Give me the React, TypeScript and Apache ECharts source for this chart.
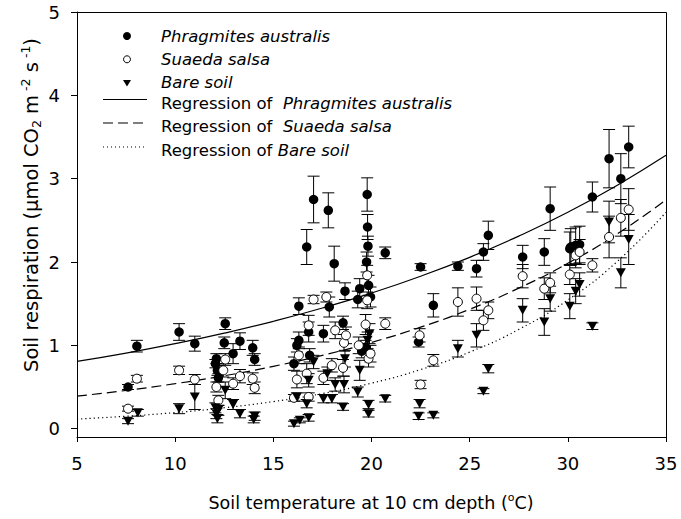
import React, { useEffect, useRef } from "react";
import * as echarts from "echarts";

// ---------- data ----------
// [soil temperature (°C), soil respiration, error]
const phragmites: number[][] = [
  [7.6, 0.5, 0.03], [8.05, 0.99, 0.07], [10.2, 1.16, 0.1], [11.0, 1.02, 0.09],
  [12.1, 0.84, 0.06], [12.05, 0.78, 0.05], [12.15, 0.7, 0.06], [12.2, 0.61, 0.05],
  [12.5, 1.03, 0.07], [12.55, 1.26, 0.07], [12.95, 0.9, 0.12], [13.3, 1.05, 0.1],
  [13.95, 0.97, 0.09], [14.05, 0.83, 0.07], [16.05, 0.78, 0.08], [16.3, 1.47, 0.1],
  [16.3, 1.06, 0.1], [16.2, 1.0, 0.08], [16.7, 2.18, 0.21], [16.8, 1.16, 0.12],
  [16.85, 0.88, 0.08], [17.05, 2.75, 0.28], [17.55, 1.14, 0.1], [17.8, 2.62, 0.21],
  [17.85, 1.46, 0.12], [18.1, 1.98, 0.21], [18.55, 1.27, 0.08], [18.65, 1.65, 0.1],
  [19.3, 1.55, 0.1], [19.4, 1.68, 0.12], [19.5, 0.93, 0.08], [19.7, 0.98, 0.08],
  [19.75, 2.0, 0.12], [19.78, 2.81, 0.2], [19.8, 2.42, 0.15], [19.82, 2.19, 0.12],
  [19.85, 1.72, 0.12], [19.95, 1.58, 0.12], [20.7, 2.11, 0.07], [22.4, 1.04, 0.06],
  [22.5, 1.94, 0.04], [23.15, 1.48, 0.14], [24.4, 1.95, 0.05], [25.35, 1.92, 0.1],
  [25.7, 2.12, 0.1], [25.95, 2.32, 0.17], [27.7, 2.06, 0.14], [28.8, 2.12, 0.16],
  [29.1, 2.64, 0.26], [30.1, 2.16, 0.2], [30.15, 2.18, 0.22], [30.4, 2.2, 0.22],
  [30.6, 2.21, 0.22], [31.25, 2.78, 0.18], [32.1, 3.24, 0.35], [32.7, 3.0, 0.3],
  [33.1, 3.38, 0.25],
];

const suaeda: number[][] = [
  [7.6, 0.24, 0.03], [8.05, 0.6, 0.04], [10.2, 0.7, 0.05], [11.0, 0.59, 0.06],
  [12.1, 0.5, 0.06], [12.2, 0.34, 0.06], [12.45, 0.7, 0.08], [12.55, 0.83, 0.07],
  [12.95, 0.54, 0.07], [13.3, 0.63, 0.08], [13.95, 0.6, 0.07], [14.05, 0.49, 0.07],
  [16.05, 0.37, 0.04], [16.2, 0.59, 0.1], [16.3, 0.88, 0.1], [16.7, 0.66, 0.12],
  [16.8, 1.24, 0.12], [16.8, 0.38, 0.05], [17.05, 1.55, 0.05], [17.55, 0.61, 0.08],
  [17.7, 1.58, 0.06], [17.98, 0.76, 0.08], [18.15, 1.18, 0.1], [18.55, 0.73, 0.1],
  [18.6, 1.03, 0.1], [18.7, 1.12, 0.1], [19.35, 1.0, 0.1], [19.7, 1.25, 0.12],
  [19.78, 1.84, 0.12], [19.78, 1.54, 0.1], [19.85, 0.84, 0.1], [19.95, 0.9, 0.1],
  [20.7, 1.26, 0.07], [22.45, 1.12, 0.08], [22.5, 0.53, 0.05], [23.15, 0.82, 0.07],
  [24.4, 1.52, 0.17], [25.35, 1.56, 0.14], [25.7, 1.3, 0.12], [25.95, 1.42, 0.1],
  [27.7, 1.83, 0.14], [28.8, 1.68, 0.13], [29.1, 1.75, 0.12], [30.1, 1.85, 0.12],
  [30.4, 2.08, 0.15], [30.6, 2.12, 0.15], [31.25, 1.96, 0.08], [32.1, 2.3, 0.25],
  [32.7, 2.53, 0.22], [33.1, 2.63, 0.25],
];

const bare: number[][] = [
  [7.6, 0.09, 0.03], [8.1, 0.19, 0.04], [10.2, 0.24, 0.06], [11.0, 0.38, 0.15],
  [12.05, 0.25, 0.06], [12.1, 0.18, 0.06], [12.15, 0.12, 0.05], [12.2, 0.22, 0.06],
  [12.55, 0.46, 0.1], [12.95, 0.29, 0.06], [13.3, 0.18, 0.05], [14.0, 0.11, 0.04],
  [14.05, 0.15, 0.05], [16.05, 0.06, 0.03], [16.2, 0.38, 0.05], [16.35, 0.1, 0.03],
  [16.7, 0.3, 0.05], [16.8, 0.58, 0.08], [16.8, 0.13, 0.04], [17.05, 0.8, 0.08],
  [17.55, 0.36, 0.05], [17.75, 0.66, 0.08], [17.98, 0.36, 0.05], [18.15, 0.53, 0.08],
  [18.55, 0.26, 0.04], [18.6, 0.53, 0.1], [18.65, 0.84, 0.1], [19.3, 0.44, 0.06],
  [19.4, 0.7, 0.12], [19.8, 1.06, 0.1], [19.85, 0.29, 0.05], [19.85, 0.18, 0.04],
  [19.9, 1.14, 0.12], [20.7, 0.36, 0.04], [22.45, 0.3, 0.05], [22.4, 0.15, 0.04],
  [23.15, 0.16, 0.03], [24.4, 0.96, 0.1], [25.35, 1.12, 0.14], [25.7, 0.45, 0.03],
  [25.95, 0.72, 0.05], [27.7, 1.42, 0.14], [28.8, 1.28, 0.16], [29.1, 1.56, 0.15],
  [30.1, 1.47, 0.15], [30.4, 1.65, 0.15], [30.6, 1.73, 0.14], [31.25, 1.23, 0.04],
  [32.1, 2.48, 0.25], [32.7, 1.87, 0.18], [33.1, 2.27, 0.3],
];

// regression curves, values
const curveT = [5, 7.5, 10, 12.5, 15, 17.5, 20, 22.5, 25, 27.5, 30, 32.5, 35];
const phragCurve = [0.807, 0.907, 1.02, 1.146, 1.288, 1.448, 1.627, 1.829, 2.056, 2.311, 2.597, 2.919, 3.28];
const suaedaCurve = [0.39, 0.459, 0.54, 0.635, 0.748, 0.88, 1.035, 1.218, 1.433, 1.686, 1.984, 2.334, 2.746];
const bareCurve = [0.115, 0.149, 0.193, 0.251, 0.325, 0.421, 0.546, 0.709, 0.919, 1.191, 1.544, 2.003, 2.597];

const yTicks = [0, 1, 2, 3, 4, 5];

const speciesNames = ["Phragmites australis", "Suaeda salsa", "Bare soil"];

const FONT = "'DejaVu Sans', sans-serif";

function errorSeries(data: number[][]) {
  return {
    type: "custom",
    data: data,
    encode: { x: 0, y: 1 },
    silent: true,
    z: 2,
    renderItem: (params: any, api: any) => {
      const x = api.value(0);
      const y = api.value(1);
      const e = api.value(2);
      const hi = api.coord([x, y + e]);
      const lo = api.coord([x, y - e]);
      const w = 6;
      const style = { stroke: "#000", lineWidth: 1, fill: "none" };
      return {
        type: "group",
        children: [
          { type: "line", shape: { x1: hi[0], y1: hi[1], x2: lo[0], y2: lo[1] }, style },
          { type: "line", shape: { x1: hi[0] - w, y1: hi[1], x2: hi[0] + w, y2: hi[1] }, style },
          { type: "line", shape: { x1: lo[0] - w, y1: lo[1], x2: lo[0] + w, y2: lo[1] }, style },
        ],
      };
    },
  };
}

function curve(values: number[], type: any, width: number) {
  return {
    type: "line",
    data: curveT.map((t, i) => [t, values[i]]),
    showSymbol: false,
    symbol: "none",
    smooth: true,
    silent: true,
    z: 1,
    lineStyle: { color: "#000", width, type },
  };
}

const richBase = {
  n: { fontFamily: FONT, fontSize: 16.5, fill: "#000", color: "#000" },
  i: { fontFamily: FONT, fontSize: 16.5, fontStyle: "italic", fill: "#000", color: "#000" },
};

function legendText(y: number, text: string) {
  return {
    type: "text",
    x: 161,
    y,
    style: { text, rich: richBase, align: "left", verticalAlign: "middle", fill: "#000" },
  };
}

function titleRich(size: number, small: number) {
  return {
    n: { fontFamily: FONT, fontSize: size, fill: "#000", color: "#000", lineHeight: size + 5 },
    sup: { fontFamily: FONT, fontSize: small, fill: "#000", color: "#000", lineHeight: small, verticalAlign: "top" },
    sub: { fontFamily: FONT, fontSize: small, fill: "#000", color: "#000", lineHeight: small, verticalAlign: "bottom" },
  };
}

export default function App() {
  const ref = useRef<HTMLDivElement>(null);
  useEffect(() => {
    if (!ref.current) return;
    const chart = echarts.init(ref.current, null, { renderer: "svg" });
    const option: any = {
      animation: false,
      backgroundColor: "#fff",
      grid: { left: 77, top: 12, right: 15, bottom: 82 },
      xAxis: {
        type: "value",
        min: 5,
        max: 35,
        interval: 5,
        axisLine: { show: true, onZero: false, lineStyle: { color: "#000", width: 1 } },
        axisTick: { show: true, length: 5, lineStyle: { color: "#000" } },
        axisLabel: { color: "#000", fontSize: 18, fontFamily: FONT, margin: 17 },
        splitLine: { show: false },
      },
      yAxis: {
        type: "value",
        min: -0.1,
        max: 5,
        axisLine: { show: true, onZero: false, lineStyle: { color: "#000", width: 1 } },
        axisTick: { show: true, length: 6, lineStyle: { color: "#000" }, customValues: yTicks },
        axisLabel: { color: "#000", fontSize: 18, fontFamily: FONT, margin: 17, customValues: yTicks },
        splitLine: { show: false },
      },
      series: [
        curve(phragCurve, "solid", 1.2),
        curve(suaedaCurve, [10, 5], 1.2),
        curve(bareCurve, [1.2, 3], 1.2),
        errorSeries(phragmites),
        errorSeries(suaeda),
        errorSeries(bare),
        {
          type: "scatter",
          name: speciesNames[0],
          data: phragmites.map((d) => [d[0], d[1]]),
          symbol: "circle",
          symbolSize: 9.5,
          itemStyle: { color: "#000", opacity: 1 },
          z: 3,
          silent: true,
        },
        {
          type: "scatter",
          name: speciesNames[1],
          data: suaeda.map((d) => [d[0], d[1]]),
          symbol: "circle",
          symbolSize: 9,
          itemStyle: { color: "#fff", borderColor: "#000", borderWidth: 1, opacity: 1 },
          z: 3,
          silent: true,
        },
        {
          type: "scatter",
          name: speciesNames[2],
          data: bare.map((d) => [d[0], d[1]]),
          symbol: "triangle",
          symbolRotate: 180,
          symbolSize: [10, 9],
          itemStyle: { color: "#000", opacity: 1 },
          z: 3,
          silent: true,
        },
      ],
      graphic: [
        // plot frame (top and right edges)
        {
          type: "polyline",
          shape: { points: [[77, 12.5], [666.5, 12.5], [666.5, 437]] },
          style: { stroke: "#000", lineWidth: 1, fill: "none" },
          z: 10,
        },
        { type: "circle", shape: { cx: 127, cy: 36, r: 4 }, style: { fill: "#000" } },
        { type: "circle", shape: { cx: 127, cy: 59.3, r: 3.5 }, style: { fill: "#fff", stroke: "#000", lineWidth: 1 } },
        { type: "polygon", shape: { points: [[123, 80], [131, 80], [127, 86.5]] }, style: { fill: "#000" } },
        { type: "line", shape: { x1: 103, y1: 99.5, x2: 147, y2: 99.5 }, style: { stroke: "#000", lineWidth: 1.2 } },
        { type: "line", shape: { x1: 103, y1: 123, x2: 147, y2: 123 }, style: { stroke: "#000", lineWidth: 1.2, lineDash: [10, 5] } },
        { type: "line", shape: { x1: 103, y1: 147, x2: 147, y2: 147 }, style: { stroke: "#000", lineWidth: 1, lineDash: [1, 3] } },
        legendText(36, `{i|${speciesNames[0]}}`),
        legendText(59.3, `{i|${speciesNames[1]}}`),
        legendText(82.7, `{i|${speciesNames[2]}}`),
        legendText(103, `{n|Regression of  }{i|${speciesNames[0]}}`),
        legendText(126.5, `{n|Regression of  }{i|${speciesNames[1]}}`),
        legendText(150, `{n|Regression of }{i|${speciesNames[2]}}`),
        {
          type: "text",
          x: 371,
          y: 503,
          style: {
            text: "{n|Soil temperature at 10 cm depth (}{sup|o}{n|C)}",
            rich: titleRich(17.5, 11),
            align: "center",
            verticalAlign: "middle",
            fill: "#000",
          },
        },
        {
          type: "text",
          x: 31,
          y: 205,
          rotation: Math.PI / 2,
          style: {
            text: "{n|Soil respiration (µmol CO}{sub|2}{n| m}{sup| -2}{n| s}{sup| -1}{n|)}",
            rich: titleRich(19.5, 12.5),
            align: "center",
            verticalAlign: "middle",
            fill: "#000",
          },
        },
      ],
    };
    chart.setOption(option);
    return () => chart.dispose();
  }, []);
  return (
    <div
      ref={ref}
      style={{ position: "fixed", left: 0, top: 0, width: 681, height: 519, background: "#fff" }}
    />
  );
}
